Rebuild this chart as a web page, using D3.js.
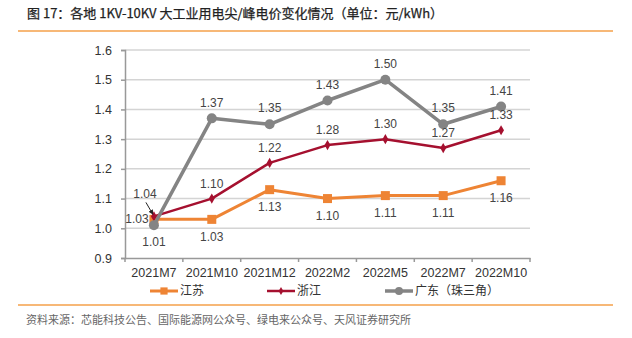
<!DOCTYPE html>
<html>
<head>
<meta charset="utf-8">
<script src="https://cdn.jsdelivr.net/npm/d3@7/dist/d3.min.js"></script>
<style>
  body { margin: 0; background: #fff; }
  svg { display: block; font-family: "Liberation Sans", Arial, sans-serif; }
  .cjk { font-family: "Noto Sans CJK SC", "Noto Sans", sans-serif; }
</style>
</head>
<body>
<svg id="chart" width="632" height="338"></svg>
<script>
const months = ['2021M7', '2021M10', '2021M12', '2022M2', '2022M5', '2022M7', '2022M10']
const jiangsu = [1.03, 1.03, 1.13, 1.10, 1.11, 1.11, 1.16]
const zhejiang = [1.04, 1.10, 1.22, 1.28, 1.30, 1.27, 1.33]
const guangdong = [1.01, 1.37, 1.35, 1.43, 1.50, 1.35, 1.41]
const yTicks = [0.9, 1.0, 1.1, 1.2, 1.3, 1.4, 1.5, 1.6]

const series = [
    { name: '江苏', values: jiangsu, color: '#EE8434', width: 3, marker: 'square', dy: 17 },
    { name: '浙江', values: zhejiang, color: '#A5102F', width: 2.5, marker: 'diamond', dy: -15 },
    { name: '广东（珠三角）', values: guangdong, color: '#848484', width: 3.5, marker: 'circle', dy: -16 }
]

const svg = d3.select('#chart')
const plot = { left: 125, right: 530, top: 50, bottom: 258 }

const x = d3.scaleBand().domain(months).range([plot.left, plot.right])
const y = d3.scaleLinear().domain([0.9, 1.6]).range([plot.bottom, plot.top])
const cx = m => x(m) + x.bandwidth() / 2

// title and rules
svg.append('text').attr('class', 'cjk')
    .attr('x', 27).attr('y', 18)
    .attr('font-size', 13).attr('fill', '#222')
    .attr('stroke', '#222').attr('stroke-width', 0.25)
    .text('图 17：各地 1KV-10KV 大工业用电尖/峰电价变化情况（单位：元/kWh）')
svg.append('line').attr('x1', 18).attr('x2', 613).attr('y1', 31).attr('y2', 31)
    .attr('stroke', '#F4A04A').attr('stroke-width', 1.5)
svg.append('line').attr('x1', 18).attr('x2', 613).attr('y1', 305).attr('y2', 305)
    .attr('stroke', '#F4A04A').attr('stroke-width', 1.5)
svg.append('text').attr('class', 'cjk')
    .attr('x', 26).attr('y', 324)
    .attr('font-size', 11).attr('fill', '#666')
    .text('资料来源：芯能科技公告、国际能源网公众号、绿电来公众号、天风证券研究所')

// grid
svg.append('g').selectAll('line')
    .data(yTicks.slice(1))
    .join('line')
    .attr('x1', plot.left).attr('x2', plot.right)
    .attr('y1', d => y(d)).attr('y2', d => y(d))
    .attr('stroke', '#d4d4d4').attr('stroke-width', 1.5)

// axes
const yAxis = svg.append('g')
    .attr('transform', `translate(${plot.left},0)`)
    .call(d3.axisLeft(y).tickValues(yTicks).tickFormat(d3.format('.1f')).tickSize(4).tickPadding(9))
yAxis.select('.domain').attr('stroke', '#999').attr('stroke-width', 1.5)
yAxis.selectAll('.tick line').attr('stroke', '#999').attr('stroke-width', 1.5)
yAxis.selectAll('text').attr('font-size', 12.5).attr('fill', '#333')
    .attr('font-family', '"Liberation Sans", Arial, sans-serif')

const xAxis = svg.append('g')
    .attr('transform', `translate(0,${plot.bottom})`)
    .call(d3.axisBottom(x).tickSize(0).tickPadding(10))
xAxis.select('.domain').attr('stroke', '#999').attr('stroke-width', 1.5)
xAxis.selectAll('.tick text').attr('font-size', 12.5).attr('fill', '#333')
    .attr('font-family', '"Liberation Sans", Arial, sans-serif')
xAxis.selectAll('line.sep')
    .data(d3.range(months.length + 1))
    .join('line').attr('class', 'sep')
    .attr('x1', i => plot.left + i * x.step()).attr('x2', i => plot.left + i * x.step())
    .attr('y1', 0).attr('y2', 4)
    .attr('stroke', '#999').attr('stroke-width', 1.5)

// lines
const line = d3.line().x((d, i) => cx(months[i])).y(d => y(d))
const marks = svg.append('g')

function drawMarker(g, kind, color, size = 1) {
    if (kind === 'square') g.append('rect').attr('x', -4.5 * size).attr('y', -4.5 * size)
        .attr('width', 9 * size).attr('height', 9 * size).attr('fill', color)
    else if (kind === 'circle') g.append('circle').attr('r', 5 * size).attr('fill', color)
    else g.append('path').attr('d', d3.symbol(d3.symbolDiamond, 30 * size * size)()).attr('fill', color)
}

series.forEach(s => {
    marks.append('path')
        .attr('d', line(s.values))
        .attr('fill', 'none')
        .attr('stroke', s.color)
        .attr('stroke-width', s.width)
        .attr('stroke-linejoin', 'round')
    s.values.forEach((v, i) => {
        const g = marks.append('g').attr('transform', `translate(${cx(months[i])},${y(v)})`)
        drawMarker(g, s.marker, s.color)
    })
})

// value labels
const labelShift = {
    '江苏-0': [-17, -1],
    '广东（珠三角）-0': [0, 16],
    '浙江-0': [-9, -23]
}
series.forEach(s => {
    s.values.forEach((v, i) => {
        const k = `${s.name}-${i}`
        const [dx, dy] = labelShift[k] || [0, s.dy]
        svg.append('text')
            .attr('x', cx(months[i]) + dx)
            .attr('y', y(v) + dy)
            .attr('dy', '0.35em')
            .attr('text-anchor', 'middle')
            .attr('font-size', 12)
            .attr('fill', '#444')
            .text(d3.format('.2f')(v))
    })
})

// leader for the 1.04 label
svg.append('defs').append('marker')
    .attr('id', 'arrow').attr('viewBox', '0 0 10 10').attr('refX', 9).attr('refY', 5)
    .attr('markerWidth', 5).attr('markerHeight', 5).attr('orient', 'auto')
    .append('path').attr('d', 'M0,0L10,5L0,10z').attr('fill', '#222')
svg.append('line')
    .attr('x1', cx(months[0]) - 8).attr('y1', y(zhejiang[0]) - 14)
    .attr('x2', cx(months[0]) - 1).attr('y2', y(zhejiang[0]) - 2)
    .attr('stroke', '#222').attr('stroke-width', 1)
    .attr('marker-end', 'url(#arrow)')

// legend
const legend = svg.append('g').attr('transform', 'translate(0,291)')
const legendX = [150, 267, 385]
series.forEach((s, i) => {
    const g = legend.append('g').attr('transform', `translate(${legendX[i]},0)`)
    g.append('line').attr('x1', 0).attr('x2', 28).attr('stroke', s.color).attr('stroke-width', s.width)
    const m = g.append('g').attr('transform', 'translate(14,0)')
    drawMarker(m, s.marker, s.color, 0.8)
    g.append('text').attr('class', 'cjk')
        .attr('x', 30).attr('dy', '0.35em')
        .attr('font-size', 12).attr('fill', '#333')
        .text(s.name)
})
</script>
</body>
</html>
